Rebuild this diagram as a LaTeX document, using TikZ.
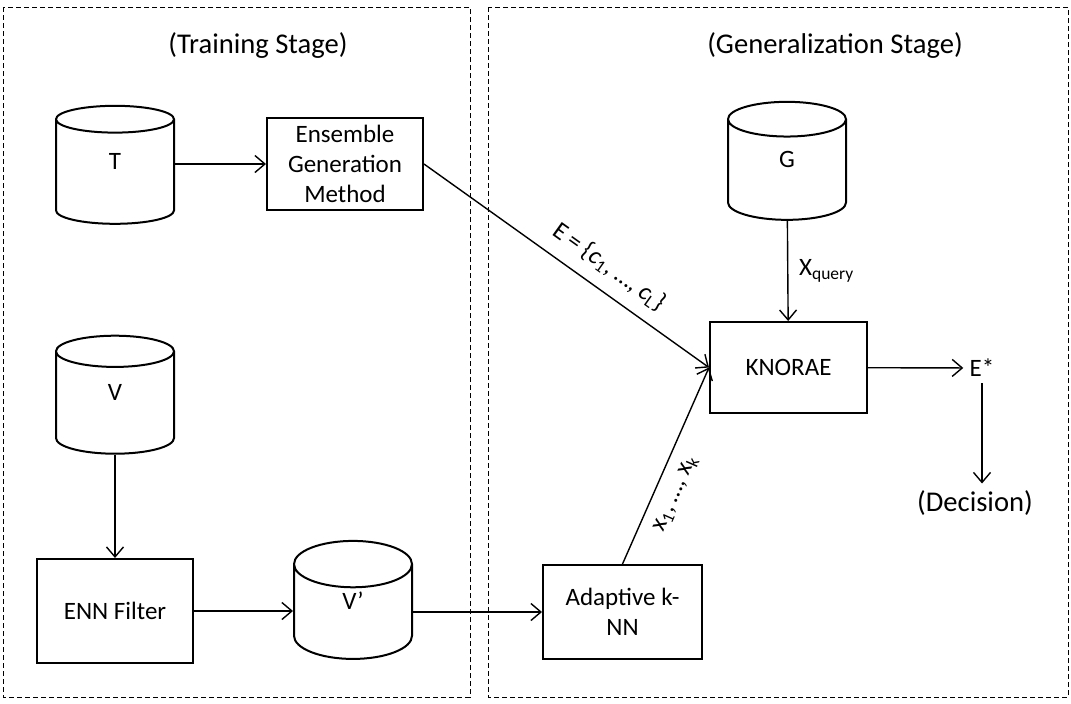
\documentclass[tikz,border=0pt]{standalone}
\usepackage{fontspec}
\setmainfont{Carlito}
\usepackage{xcolor}
\usetikzlibrary{calc,shapes.geometric,arrows.meta}

\begin{document}
\begin{tikzpicture}[
        x=0.5pt, y=-0.5pt,
        font=\fontsize{12.5}{15}\selectfont,
        box/.style = {draw, rectangle, line width=1pt, align=center, inner sep=0pt},
        db/.style = {draw, cylinder, shape border rotate=90, aspect=2.2, line width=1pt,
                     minimum width=59pt, minimum height=59pt, inner sep=0pt, text depth=11pt},
        stagebox/.style = {draw, line width=0.5pt, dash pattern=on 2.5pt off 1.5pt},
        title/.style = {font=\fontsize{14.3}{17}\selectfont},
        arrow/.style = {-{Straight Barb[length=5pt, width=8.5pt]}, line width=0.7pt}
    ]
    \useasboundingbox (0,0) rectangle (1071,703);

    % Stage frames
    \draw[stagebox] (3,7) rectangle (470,697);
    \draw[stagebox] (488,7) rectangle (1068,697);
    \node[title] (train) at (258,45) {(Training Stage)};
    \node[title] (gen) at (835,45) {(Generalization Stage)};

    % Training stage
    \node[db] (T) at (115,172) {T};
    \node[box, minimum width=78pt, minimum height=46pt] (ens) at (345,164) {Ensemble\\Generation\\Method};
    \node[db] (V) at (115,403) {V};
    \node[box, minimum width=78pt, minimum height=52pt] (enn) at (115,611) {ENN Filter};
    \node[db] (Vp) at (353,612) {V’};

    % Generalization stage
    \node[db] (G) at (787,170) {G};
    \node[box, minimum width=78.5pt, minimum height=45.5pt] (knorae) at (788.5,367.5) {KNORAE};
    \node[box, minimum width=79.5pt, minimum height=47pt] (ada) at (622.5,612) {Adaptive k-\\NN};
    \node[inner sep=3pt] (estar) at (982,368) {E*};
    \node[title] (dec) at (975,503) {(Decision)};

    % Arrows
    \draw[arrow] (T.east |- ens) -- (ens);
    \draw[arrow] (V) -- (enn);
    \draw[arrow] (enn) -- (enn -| Vp.west);
    \draw[arrow] (Vp.east |- ada) -- (ada);
    \draw[arrow] (G) -- node[right=2pt] {X\textsubscript{query}} (knorae);
    \draw[arrow] (ens.east) -- node[sloped, above=3pt, pos=0.6] {E = \{\textit{c}\textsubscript{1}, …, \textit{c}\textsubscript{L}\}} (knorae.west);
    \draw[arrow] (ada.north) -- node[sloped, below=3pt, pos=0.4] {x\textsubscript{1}, …, x\textsubscript{k}} (knorae.west);
    \draw[arrow] (knorae) -- (estar);
    \draw[arrow] (estar.south) -- (estar.south |- dec.north);

\end{tikzpicture}
\end{document}
